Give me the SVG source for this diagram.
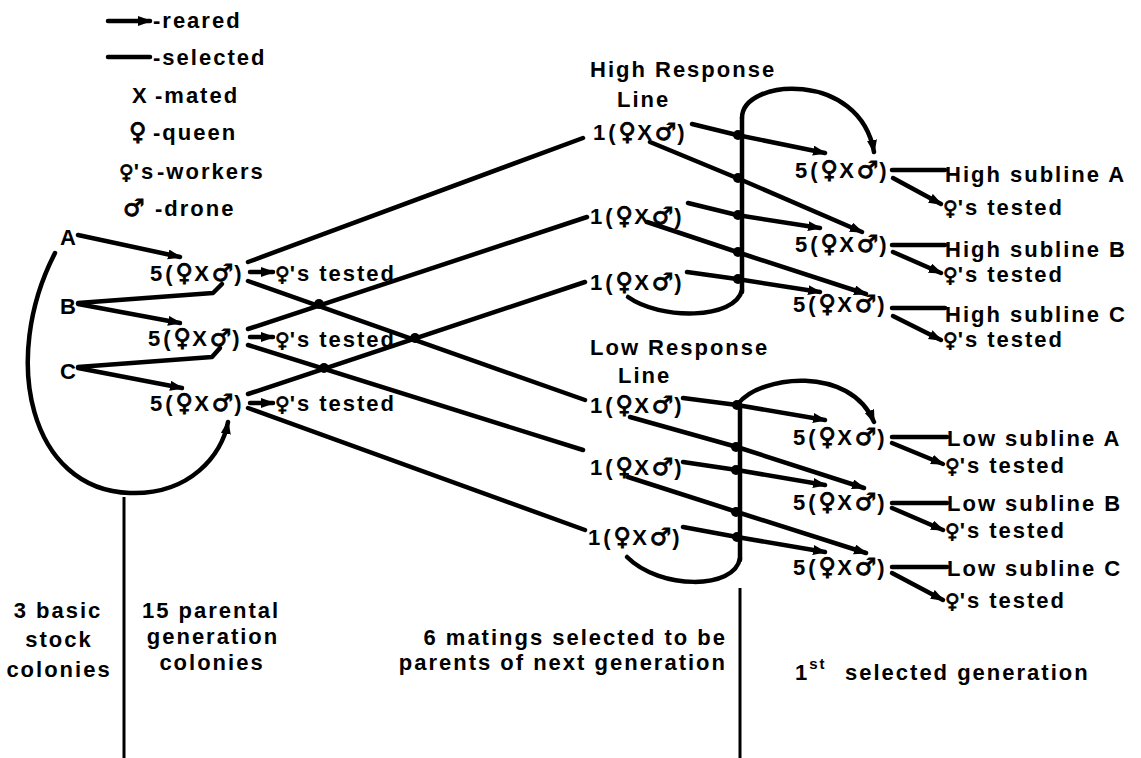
<svg xmlns="http://www.w3.org/2000/svg" width="1141" height="758" viewBox="0 0 1141 758">
<style>
text{font-family:"Liberation Sans",Arial,sans-serif;font-weight:bold;font-size:22px;letter-spacing:2px;fill:#000}
.n{letter-spacing:3px}
.s{font-family:"DejaVu Sans","Noto Sans",sans-serif;font-weight:bold;font-size:24px;letter-spacing:1px;stroke:#000;stroke-width:0.9}
.w{font-family:"DejaVu Sans","Noto Sans",sans-serif;font-weight:bold;font-size:20px;letter-spacing:0;stroke:#000;stroke-width:0.8}
.ln{fill:none;stroke:#000;stroke-width:4.5;stroke-linecap:round;stroke-linejoin:round}
.ar{fill:none;stroke:#000;stroke-width:4.5;stroke-linecap:round;stroke-linejoin:round;marker-end:url(#ah)}
.dot{fill:#000}
.mid{text-anchor:middle}
</style>
<defs>
<marker id="ah" markerUnits="userSpaceOnUse" markerWidth="16" markerHeight="12" refX="12" refY="5" orient="auto">
<path d="M0,0 L14,5 L0,10 z" fill="#000"/>
</marker>
</defs>
<rect width="1141" height="758" fill="#fff"/>

<g id="legend">
<line class="ar" x1="108" y1="21" x2="150" y2="21"/>
<text x="153" y="28">-reared</text>
<line class="ln" x1="108" y1="57" x2="150" y2="57"/>
<text x="153" y="65">-selected</text>
<text x="132" y="103">X<tspan x="155">-mated</tspan></text>
<text x="129" y="140"><tspan class="s">♀</tspan><tspan x="153">-queen</tspan></text>
<text x="119" y="179"><tspan class="w">♀</tspan>'s<tspan x="157">-workers</tspan></text>
<text x="123" y="216"><tspan class="s">♂</tspan><tspan x="155">-drone</tspan></text>
</g>

<g id="connectors">
<line class="ar" x1="78" y1="235" x2="180" y2="257"/>
<polyline class="ln" points="78,303 213,293 222,284"/>
<line class="ar" x1="78" y1="304" x2="180" y2="323"/>
<polyline class="ln" points="78,367 212,357 220,348"/>
<line class="ar" x1="78" y1="368" x2="182" y2="388"/>
<path class="ar" d="M55 253 C0 360 30 490 130 493 C190 495 222 455 228 422"/>
<line class="ar" x1="250" y1="272" x2="273" y2="272"/>
<line class="ar" x1="250" y1="337" x2="273" y2="337"/>
<line class="ar" x1="250" y1="403" x2="273" y2="403"/>
<line class="ln" x1="248" y1="262" x2="583" y2="138"/>
<line class="ln" x1="248" y1="329" x2="587" y2="217"/>
<line class="ln" x1="248" y1="394" x2="585" y2="282"/>
<line class="ln" x1="248" y1="281" x2="585" y2="400"/>
<line class="ln" x1="248" y1="345" x2="583" y2="450"/>
<line class="ln" x1="248" y1="408" x2="585" y2="530"/>
<circle class="dot" cx="319" cy="304" r="5"/>
<circle class="dot" cx="415" cy="338" r="5"/>
<circle class="dot" cx="324" cy="368" r="5"/>
<line class="ln" x1="742" y1="118" x2="742" y2="292"/>
<path class="ar" d="M742 118 C742 78 860 70 874 152"/>
<path class="ln" d="M742 290 C735 320 660 320 628 297"/>
<polyline class="ar" points="692,124 737,135 825,153"/>
<polyline class="ar" points="650,142 737,178 862,232"/>
<polyline class="ar" points="688,203 737,215 820,228"/>
<polyline class="ar" points="647,222 737,252 866,294"/>
<polyline class="ar" points="687,272 737,279 820,292"/>
<circle class="dot" cx="738" cy="135" r="5"/>
<circle class="dot" cx="738" cy="178" r="5"/>
<circle class="dot" cx="738" cy="215" r="5"/>
<circle class="dot" cx="738" cy="252" r="5"/>
<circle class="dot" cx="738" cy="279" r="5"/>
<line class="ln" x1="740" y1="405" x2="740" y2="560"/>
<path class="ar" d="M738 404 C760 375 850 365 874 422"/>
<path class="ln" d="M740 558 C735 590 660 590 627 557"/>
<polyline class="ar" points="683,398 737,405 825,420"/>
<polyline class="ar" points="630,417 737,447 864,488"/>
<polyline class="ar" points="683,462 737,470 825,485"/>
<polyline class="ar" points="628,477 737,512 866,553"/>
<polyline class="ar" points="683,527 737,537 825,552"/>
<circle class="dot" cx="737" cy="405" r="5"/>
<circle class="dot" cx="736" cy="447" r="5"/>
<circle class="dot" cx="736" cy="470" r="5"/>
<circle class="dot" cx="736" cy="512" r="5"/>
<circle class="dot" cx="737" cy="537" r="5"/>
<line class="ln" x1="892" y1="170" x2="945" y2="170"/>
<line class="ar" x1="893" y1="178" x2="941" y2="204"/>
<line class="ln" x1="892" y1="245" x2="945" y2="245"/>
<line class="ar" x1="893" y1="252" x2="941" y2="273"/>
<line class="ln" x1="892" y1="308" x2="945" y2="308"/>
<line class="ar" x1="893" y1="316" x2="941" y2="340"/>
<line class="ln" x1="892" y1="437" x2="947" y2="437"/>
<line class="ar" x1="892" y1="443" x2="943" y2="464"/>
<line class="ln" x1="892" y1="503" x2="947" y2="503"/>
<line class="ar" x1="892" y1="508" x2="943" y2="530"/>
<line class="ln" x1="892" y1="567" x2="947" y2="567"/>
<line class="ar" x1="892" y1="573" x2="943" y2="600"/>
<line x1="124" y1="497" x2="124" y2="758" stroke="#000" stroke-width="3"/>
<line x1="740" y1="588" x2="740" y2="758" stroke="#000" stroke-width="3"/>
</g>

<g id="stock-A"><text x="60" y="245">A</text></g>
<g id="stock-B"><text x="60" y="314">B</text></g>
<g id="stock-C"><text x="60" y="379">C</text></g>

<g id="parental-1"><text class="n" x="150" y="281">5(<tspan class="s">♀</tspan>X<tspan class="s">♂</tspan>)</text><text x="275" y="281"><tspan class="w">♀</tspan>'s tested</text></g>
<g id="parental-2"><text class="n" x="148" y="346">5(<tspan class="s">♀</tspan>X<tspan class="s">♂</tspan>)</text><text x="275" y="347"><tspan class="w">♀</tspan>'s tested</text></g>
<g id="parental-3"><text class="n" x="150" y="411">5(<tspan class="s">♀</tspan>X<tspan class="s">♂</tspan>)</text><text x="275" y="411"><tspan class="w">♀</tspan>'s tested</text></g>

<g id="high-heading"><text x="590" y="77">High Response</text><text x="617" y="107">Line</text></g>
<g id="high-1"><text class="n" x="593" y="140">1(<tspan class="s">♀</tspan>X<tspan class="s">♂</tspan>)</text></g>
<g id="high-2"><text class="n" x="590" y="224">1(<tspan class="s">♀</tspan>X<tspan class="s">♂</tspan>)</text></g>
<g id="high-3"><text class="n" x="590" y="290">1(<tspan class="s">♀</tspan>X<tspan class="s">♂</tspan>)</text></g>

<g id="low-heading"><text x="590" y="355">Low Response</text><text x="618" y="383">Line</text></g>
<g id="low-1"><text class="n" x="590" y="413">1(<tspan class="s">♀</tspan>X<tspan class="s">♂</tspan>)</text></g>
<g id="low-2"><text class="n" x="590" y="475">1(<tspan class="s">♀</tspan>X<tspan class="s">♂</tspan>)</text></g>
<g id="low-3"><text class="n" x="588" y="545">1(<tspan class="s">♀</tspan>X<tspan class="s">♂</tspan>)</text></g>

<g id="high-sub-A"><text class="n" x="795" y="178">5(<tspan class="s">♀</tspan>X<tspan class="s">♂</tspan>)</text><text x="945" y="182">High subline A</text><text x="943" y="215"><tspan class="w">♀</tspan>'s tested</text></g>
<g id="high-sub-B"><text class="n" x="795" y="252">5(<tspan class="s">♀</tspan>X<tspan class="s">♂</tspan>)</text><text x="945" y="257">High subline B</text><text x="943" y="282"><tspan class="w">♀</tspan>'s tested</text></g>
<g id="high-sub-C"><text class="n" x="793" y="312">5(<tspan class="s">♀</tspan>X<tspan class="s">♂</tspan>)</text><text x="945" y="322">High subline C</text><text x="943" y="347"><tspan class="w">♀</tspan>'s tested</text></g>

<g id="low-sub-A"><text class="n" x="793" y="445">5(<tspan class="s">♀</tspan>X<tspan class="s">♂</tspan>)</text><text x="947" y="446">Low subline A</text><text x="945" y="473"><tspan class="w">♀</tspan>'s tested</text></g>
<g id="low-sub-B"><text class="n" x="793" y="510">5(<tspan class="s">♀</tspan>X<tspan class="s">♂</tspan>)</text><text x="947" y="511">Low subline B</text><text x="945" y="538"><tspan class="w">♀</tspan>'s tested</text></g>
<g id="low-sub-C"><text class="n" x="793" y="575">5(<tspan class="s">♀</tspan>X<tspan class="s">♂</tspan>)</text><text x="947" y="576">Low subline C</text><text x="945" y="608"><tspan class="w">♀</tspan>'s tested</text></g>

<g id="captions">
<text class="mid" x="58" y="618">3 basic</text>
<text class="mid" x="59" y="647">stock</text>
<text class="mid" x="59" y="677">colonies</text>
<text class="mid" x="211" y="618">15 parental</text>
<text class="mid" x="213" y="644">generation</text>
<text class="mid" x="212" y="670">colonies</text>
<text x="727" y="645" style="text-anchor:end">6 matings selected to be</text>
<text x="727" y="670" style="text-anchor:end">parents of next generation</text>
<text x="795" y="680">1<tspan font-size="15" dy="-11">st</tspan><tspan x="845" dy="11">selected generation</tspan></text>
</g>
</svg>
